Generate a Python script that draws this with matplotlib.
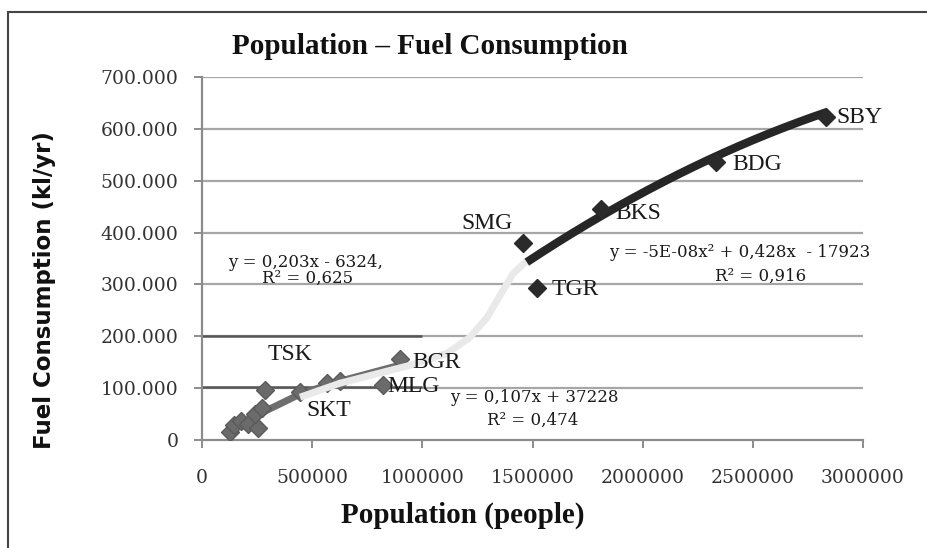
import matplotlib
matplotlib.use("Agg")
import matplotlib.pyplot as plt
import numpy as np
from matplotlib.patches import Rectangle
from matplotlib.ticker import FuncFormatter

# ---------------- data ----------------
big_names = ["SMG", "TGR", "BKS", "BDG", "SBY"]
big_pop = [1457000, 1521000, 1811000, 2333000, 2832000]
big_fuel = [379000, 294000, 446000, 536500, 623000]

small_pop = [127000, 145000, 177000, 209000, 254000, 241000, 272000, 286000,
             445000, 567000, 626000, 822000, 899000]
small_fuel = [15400, 28800, 36500, 30800, 23000, 50000, 61500, 96000,
              92000, 110000, 113000, 106000, 156000]

# trend lines
gray_trend_x = [127000, 277000, 454000, 626000, 930000]
gray_trend_y = [17300, 53800, 90400, 113500, 148100]
light_trend_x = [445000, 626000, 944000, 1112000, 1216000, 1294000, 1366000, 1412000, 1475000]
light_trend_y = [82700, 109600, 144200, 167300, 198100, 236500, 288500, 321100, 346100]
quad_coef = [-5e-8, 0.428, -179230]          # y = a x^2 + b x + c
quad_range = [1474000, 2836000]

x_ticks = [0, 500000, 1000000, 1500000, 2000000, 2500000, 3000000]
y_ticks = [0, 100000, 200000, 300000, 400000, 500000, 600000, 700000]

# ---------------- figure ----------------
fig = plt.figure(figsize=(9.28, 5.48), dpi=100)
ax = fig.add_axes([0.2177, 0.197, 0.7123, 0.6625])
ax.set_xlim(0, 3000000)
ax.set_ylim(0, 700000)

# gridlines
for yv in y_ticks[1:]:
    ax.axhline(yv, color="#a6a6a6", lw=1.6, zorder=1)
# overlaid darker segments of the small-city chart
ax.hlines([0, 102000, 200000], 0, 1000000, color="#555555", lw=1.8, zorder=1.5)

# trend lines
ax.plot(light_trend_x, light_trend_y, color="#e9e9e9", lw=5, solid_capstyle="butt",
        solid_joinstyle="round", zorder=3)
ax.plot(gray_trend_x, gray_trend_y, color="#6e6e6e", lw=5, solid_capstyle="butt",
        solid_joinstyle="round", zorder=2.5)
xq = np.linspace(quad_range[0], quad_range[1], 200)
ax.plot(xq, np.polyval(quad_coef, xq), color="#262626", lw=6, solid_capstyle="butt", zorder=4)

# points
ax.plot(small_pop, small_fuel, "D", color="#6b6b6b", ms=9.5, mec="#5a5a5a", zorder=2.8)
ax.plot(big_pop, big_fuel, "D", color="#2a2a2a", ms=9.5, zorder=5)

# spines / ticks
for s in ["top", "right"]:
    ax.spines[s].set_visible(False)
for s in ["left", "bottom"]:
    ax.spines[s].set_color("#8c8c8c")
    ax.spines[s].set_linewidth(1.6)
ax.set_xticks(x_ticks)
ax.set_yticks(y_ticks)
ax.tick_params(axis="both", colors="#8c8c8c", length=6, width=1.4, labelcolor="#333333")
ax.tick_params(axis="x", pad=15)
ax.tick_params(axis="y", pad=11)
ax.xaxis.set_major_formatter(FuncFormatter(lambda v, p: f"{int(v)}"))
ax.yaxis.set_major_formatter(FuncFormatter(lambda v, p: "0" if v == 0 else f"{int(v):,}".replace(",", ".")))
for lab in ax.get_xticklabels() + ax.get_yticklabels():
    lab.set_fontfamily("DejaVu Serif")
    lab.set_fontsize(13.5)

# labels
lab_font = dict(family="Liberation Serif", fontsize=17, color="#1a1a1a", va="center", ha="left")
ax.text(299600, 165400, "TSK", **lab_font)
ax.text(472000, 57700, "SKT", **lab_font)
ax.text(840000, 103800, "MLG", **lab_font)
ax.text(953000, 150000, "BGR", **lab_font)
ax.text(1175600, 417300, "SMG", **lab_font)
ax.text(1588600, 290400, "TGR", **lab_font)
ax.text(1874600, 436500, "BKS", **lab_font)
ax.text(2405700, 530700, "BDG", **lab_font)
ax.text(2877700, 621100, "SBY", **lab_font, clip_on=False)

eq_font = dict(family="DejaVu Serif", fontsize=12, color="#1a1a1a", va="center", ha="left")
ax.text(118000, 342000, "y = 0,203x - 6324,", **eq_font)
ax.text(272000, 311000, "R² = 0,625", **eq_font)
ax.text(1125700, 82700, "y = 0,107x + 37228", **eq_font)
ax.text(1293600, 38500, "R² = 0,474", **eq_font)
ax.text(1847000, 361500, "y = -5E-08x² + 0,428x  - 17923", **eq_font, clip_on=False)
ax.text(2328500, 315400, "R² = 0,916", **eq_font)

fig.text(430 / 928, 1 - 46 / 548, "Population – Fuel Consumption", family="Liberation Serif",
         fontweight="bold", fontsize=21, ha="center", va="center", color="#111111")
fig.text(463 / 928, 1 - 515 / 548, "Population (people)", family="Liberation Serif",
         fontweight="bold", fontsize=21, ha="center", va="center", color="#111111")
fig.text(45 / 928, 1 - 290 / 548, "Fuel Consumption (kl/yr)", family="DejaVu Sans",
         fontweight="bold", fontsize=16.5, rotation=90, ha="center", va="center", color="#111111")

# outer frame
fig.patches.append(Rectangle((8 / 928, -0.02), 1.1, 1 - 12 / 548 + 0.02, transform=fig.transFigure,
                             fill=False, edgecolor="#444444", lw=1.5))

fig.savefig("out.png", dpi=100)
